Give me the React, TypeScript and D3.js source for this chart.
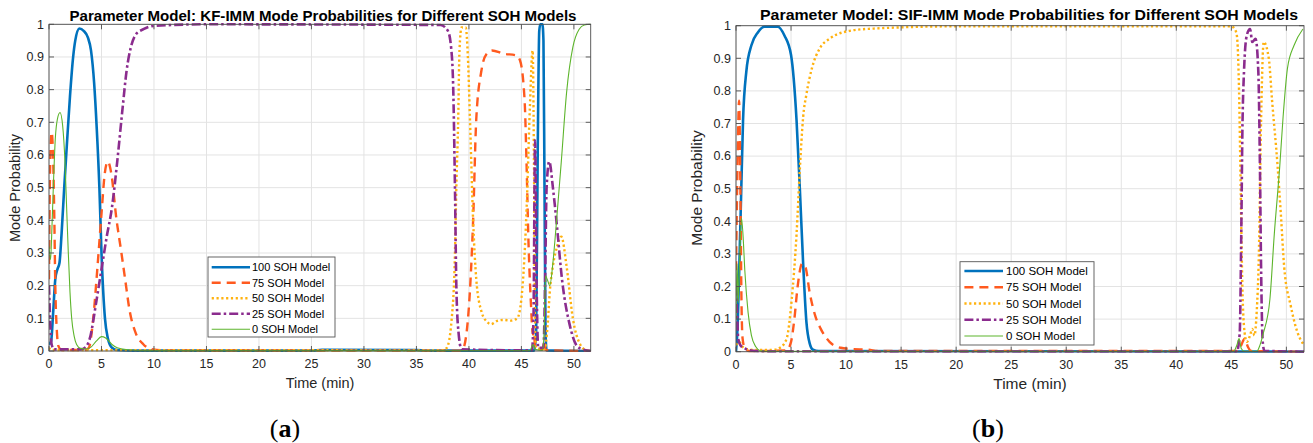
import React from 'react';
import * as d3 from 'd3';

type Pt = [number, number];

const xTicks = [0, 5, 10, 15, 20, 25, 30, 35, 40, 45, 50];
const yTicks = [0, 0.1, 0.2, 0.3, 0.4, 0.5, 0.6, 0.7, 0.8, 0.9, 1];
const yTickLabels = ['0', '0.1', '0.2', '0.3', '0.4', '0.5', '0.6', '0.7', '0.8', '0.9', '1'];
const seriesNames = ['100 SOH Model', '75 SOH Model', '50 SOH Model', '25 SOH Model', '0 SOH Model'];
const xMax = 51.6;

// ---- Panel (a): KF-IMM ----
const kf100: Pt[] = [[0,0.02],[0.2,0.03],[0.4,0.12],[0.6,0.22],[0.8,0.25],[1.0,0.27],[1.2,0.36],[1.45,0.5],[1.7,0.63],[2.0,0.78],[2.3,0.9],[2.5,0.95],[2.9,0.987],[3.3,0.98],[3.7,0.96],[4.0,0.92],[4.3,0.82],[4.55,0.68],[4.8,0.5],[5.0,0.3],[5.33,0.1],[5.6,0.04],[6.0,0.01],[6.5,0.003],[8,0.001],[25,0.001],[26,0.004],[35,0.003],[36,0.001],[46.2,0.001],[46.4,0.05],[46.55,0.6],[46.7,0.98],[46.8,1.0],[47.0,1.0],[47.1,0.95],[47.2,0.5],[47.3,0.05],[47.4,0.002],[51.6,0]];
const kf75: Pt[] = [[0,0.22],[0.1,0.55],[0.25,0.67],[0.4,0.58],[0.5,0.42],[0.6,0.2],[0.75,0.06],[0.9,0.015],[1.2,0.003],[3.5,0.003],[3.8,0.01],[4.2,0.095],[4.6,0.25],[5.0,0.42],[5.3,0.54],[5.6,0.58],[5.95,0.54],[6.4,0.41],[6.9,0.3],[7.25,0.22],[7.7,0.12],[8.2,0.06],[9.0,0.02],[9.9,0.005],[11,0.002],[39.0,0.001],[39.4,0.005],[39.9,0.095],[40.4,0.4],[40.7,0.71],[41.2,0.86],[41.7,0.91],[42.2,0.92],[43.3,0.91],[44.5,0.905],[44.86,0.89],[45.3,0.77],[45.5,0.56],[45.65,0.36],[45.9,0.15],[46.1,0.05],[46.2,0.06],[46.3,0.01],[47.0,0.005],[47.2,0.03],[47.3,0.003],[51.6,0]];
const kf50: Pt[] = [[0,0.01],[0.2,0.003],[37.5,0.002],[37.9,0.01],[38.35,0.095],[38.67,0.3],[38.8,0.5],[38.98,0.71],[39.1,0.92],[39.3,0.99],[39.7,0.99],[39.9,0.9],[40.1,0.71],[40.4,0.4],[40.7,0.22],[41.2,0.12],[41.7,0.09],[42.1,0.082],[42.7,0.092],[43.3,0.095],[44.0,0.093],[44.6,0.1],[45.0,0.16],[45.2,0.24],[45.5,0.44],[45.8,0.74],[46.07,0.92],[46.2,0.56],[46.3,0.095],[46.4,0.01],[47.2,0.005],[47.5,0.08],[47.7,0.18],[48.0,0.26],[48.4,0.32],[48.8,0.35],[49.3,0.26],[49.9,0.1],[50.6,0.02],[51.2,0.002],[51.6,0]];
const kf25: Pt[] = [[0,0.2],[0.1,0.1],[0.25,0.02],[0.5,0.005],[3.0,0.005],[3.5,0.012],[3.9,0.04],[4.5,0.15],[5.0,0.25],[5.5,0.35],[6.0,0.44],[6.5,0.58],[7.0,0.74],[7.4,0.86],[7.8,0.93],[8.3,0.97],[9.0,0.985],[10,0.995],[15,1.0],[37.3,0.998],[38.0,0.98],[38.3,0.93],[38.5,0.81],[38.67,0.5],[38.8,0.2],[39.0,0.06],[39.3,0.005],[46.0,0.002],[46.15,0.1],[46.3,0.645],[46.45,0.2],[46.6,0.01],[47.1,0.01],[47.25,0.2],[47.4,0.5],[47.65,0.58],[48.0,0.5],[48.3,0.41],[48.9,0.21],[49.6,0.08],[50.3,0.015],[51.0,0.003],[51.6,0]];
const kf0: Pt[] = [[0,0.32],[0.15,0.28],[0.25,0.35],[0.41,0.5],[0.6,0.65],[0.8,0.71],[1.05,0.73],[1.3,0.69],[1.52,0.58],[1.7,0.42],[1.84,0.3],[2.0,0.18],[2.16,0.1],[2.4,0.045],[2.63,0.02],[3.0,0.008],[3.5,0.006],[4.0,0.012],[4.5,0.03],[5.0,0.044],[5.4,0.04],[6.0,0.02],[6.5,0.01],[7.5,0.004],[9,0.001],[45.8,0.001],[46.1,0.02],[46.3,0.005],[47.0,0.002],[47.15,0.05],[47.3,0.23],[47.45,0.22],[47.7,0.2],[48.0,0.27],[48.3,0.38],[48.8,0.58],[49.3,0.79],[49.9,0.93],[50.5,0.985],[51.0,0.998],[51.6,1.0]];

// ---- Panel (b): SIF-IMM ----
const sif100: Pt[] = [[0,0.0],[0.15,0.08],[0.33,0.3],[0.48,0.5],[0.64,0.71],[0.94,0.86],[1.4,0.94],[2.0,0.98],[2.6,0.997],[3.8,0.997],[4.4,0.97],[5.0,0.91],[5.5,0.71],[5.8,0.5],[6.1,0.27],[6.4,0.09],[6.7,0.025],[7.0,0.006],[7.5,0.002],[51.6,0]];
const sif75: Pt[] = [[0,0.25],[0.15,0.6],[0.28,0.77],[0.4,0.5],[0.5,0.15],[0.6,0.04],[0.8,0.01],[1.2,0.002],[4.6,0.004],[5.0,0.03],[5.3,0.1],[5.6,0.2],[6.0,0.27],[6.3,0.26],[6.7,0.18],[7.2,0.11],[7.7,0.07],[8.5,0.03],[9.5,0.012],[10.5,0.008],[12,0.006],[13,0.002],[45.6,0.002],[45.9,0.02],[46.2,0.04],[46.5,0.015],[46.8,0.002],[51.6,0]];
const sif50: Pt[] = [[0,0.02],[0.3,0.03],[0.6,0.015],[1.0,0.008],[2.0,0.005],[3.5,0.006],[4.0,0.012],[4.6,0.04],[5.06,0.16],[5.5,0.36],[5.8,0.56],[6.1,0.72],[6.4,0.79],[6.9,0.87],[7.6,0.93],[8.5,0.96],[9.75,0.98],[11.9,0.99],[20,0.998],[45.0,0.998],[45.3,0.99],[45.5,0.97],[45.7,0.8],[45.85,0.5],[46.0,0.2],[46.2,0.06],[46.4,0.03],[46.7,0.05],[46.9,0.07],[47.1,0.05],[47.3,0.12],[47.5,0.3],[47.7,0.71],[47.94,0.95],[48.4,0.9],[48.7,0.77],[49.2,0.57],[49.5,0.42],[49.8,0.26],[50.4,0.14],[51.0,0.06],[51.6,0.02]];
const sif25: Pt[] = [[0,0.2],[0.1,0.12],[0.2,0.04],[0.4,0.02],[0.8,0.01],[1.5,0.003],[3,0.001],[45.5,0.001],[45.76,0.056],[45.9,0.36],[46.0,0.67],[46.15,0.86],[46.4,0.97],[46.7,0.99],[46.9,0.95],[47.2,0.96],[47.45,0.86],[47.6,0.56],[47.7,0.26],[47.85,0.03],[48.0,0.003],[51.6,0]];
const sif0: Pt[] = [[0,0.1],[0.1,0.27],[0.2,0.15],[0.3,0.25],[0.5,0.41],[0.65,0.35],[0.8,0.25],[1.1,0.12],[1.4,0.05],[1.8,0.015],[2.2,0.003],[3,0.001],[45.2,0.001],[45.5,0.02],[45.7,0.04],[45.9,0.01],[46.2,0.001],[47.3,0.001],[47.6,0.02],[47.9,0.056],[48.5,0.16],[48.9,0.36],[49.4,0.57],[49.7,0.72],[50.1,0.87],[50.7,0.94],[51.5,0.99]];

const kfSeries = [kf100, kf75, kf50, kf25, kf0];
const sifSeries = [sif100, sif75, sif50, sif25, sif0];

const lineStyles = [
  { color: '#0072BD', width: 2.6, dash: undefined as string | undefined },
  { color: '#FF5A1F', width: 2.4, dash: '9,6' },
  { color: '#FFB20F', width: 2.4, dash: '2.2,2.6' },
  { color: '#8B2C8E', width: 2.6, dash: '9,3,2.5,3' },
  { color: '#5DB52C', width: 1.1, dash: undefined as string | undefined },
];

const FONT = "'Liberation Sans', Arial, Helvetica, sans-serif";

interface PanelCfg {
  id: string;
  x0: number; x1: number; y0: number; y1: number;
  title: string; titleX: number; titleY: number; titleSize: number; titleLen: number;
  tickSize: number; labelSize: number;
  xLabelX: number; xLabelY: number; yLabelX: number; yLabelY: number;
  legend: { x: number; y: number; w: number; h: number; rowY0: number; rowDy: number; lx0: number; lx1: number; tx: number; fs: number };
  caption: string; capX: number; capY: number;
  series: Pt[][];
}

const panels: PanelCfg[] = [
  {
    id: 'a', x0: 49, x1: 590.7, y0: 24.3, y1: 351,
    title: 'Parameter Model: KF-IMM Mode Probabilities for Different SOH Models', titleX: 323, titleY: 21, titleSize: 14.5, titleLen: 507,
    tickSize: 12.5, labelSize: 14.5, xLabelX: 320, xLabelY: 388, yLabelX: 15, yLabelY: 188,
    legend: { x: 208, y: 257, w: 127, h: 80, rowY0: 267.3, rowDy: 15.5, lx0: 211.7, lx1: 250, tx: 252, fs: 11 },
    caption: 'a', capX: 285, capY: 437, series: kfSeries,
  },
  {
    id: 'b', x0: 736, x1: 1304, y0: 25.7, y1: 351.7,
    title: 'Parameter Model: SIF-IMM Mode Probabilities for Different SOH Models', titleX: 1029, titleY: 19.5, titleSize: 15.2, titleLen: 538,
    tickSize: 12.5, labelSize: 15.5, xLabelX: 1030, xLabelY: 389, yLabelX: 697, yLabelY: 188,
    legend: { x: 960, y: 261.7, w: 134, h: 83.3, rowY0: 271, rowDy: 16.25, lx0: 964.4, lx1: 1003, tx: 1006, fs: 11.5 },
    caption: 'b', capX: 988, capY: 437, series: sifSeries,
  },
];

function Panel({ cfg }: { cfg: PanelCfg }) {
  const x = d3.scaleLinear().domain([0, xMax]).range([cfg.x0, cfg.x1]);
  const y = d3.scaleLinear().domain([0, 1]).range([cfg.y1, cfg.y0]);
  const line = d3.line<Pt>().x(d => x(d[0])).y(d => y(d[1])).curve(d3.curveMonotoneX);
  const clipId = `clip-${cfg.id}`;
  const tickLen = 5;
  return (
    <g>
      <defs>
        <clipPath id={clipId}>
          <rect x={cfg.x0} y={cfg.y0 - 2} width={cfg.x1 - cfg.x0} height={cfg.y1 - cfg.y0 + 3} />
        </clipPath>
      </defs>
      <rect x={cfg.x0} y={cfg.y0} width={cfg.x1 - cfg.x0} height={cfg.y1 - cfg.y0} fill="#fff" />
      {xTicks.map(t => (
        <line key={`gx${t}`} x1={x(t)} x2={x(t)} y1={cfg.y0} y2={cfg.y1} stroke="#e3e3e3" strokeWidth={1} />
      ))}
      {yTicks.map(t => (
        <line key={`gy${t}`} x1={cfg.x0} x2={cfg.x1} y1={y(t)} y2={y(t)} stroke="#e3e3e3" strokeWidth={1} />
      ))}
      <g clipPath={`url(#${clipId})`}>
        {cfg.series.map((s, i) => (
          <path key={i} d={line(s) || ''} fill="none" stroke={lineStyles[i].color}
            strokeWidth={lineStyles[i].width} strokeDasharray={lineStyles[i].dash}
            strokeLinejoin="round" />
        ))}
      </g>
      <rect x={cfg.x0} y={cfg.y0} width={cfg.x1 - cfg.x0} height={cfg.y1 - cfg.y0} fill="none" stroke="#4d4d4d" strokeWidth={0.9} />
      {xTicks.map(t => (
        <g key={`tx${t}`}>
          <line x1={x(t)} x2={x(t)} y1={cfg.y1} y2={cfg.y1 - tickLen} stroke="#4d4d4d" strokeWidth={0.9} />
          <line x1={x(t)} x2={x(t)} y1={cfg.y0} y2={cfg.y0 + tickLen} stroke="#4d4d4d" strokeWidth={0.9} />
          <text x={x(t)} y={cfg.y1 + 17} textAnchor="middle" fontFamily={FONT} fontSize={cfg.tickSize} fill="#262626">{t}</text>
        </g>
      ))}
      {yTicks.map((t, i) => (
        <g key={`ty${t}`}>
          <line x1={cfg.x0} x2={cfg.x0 + tickLen} y1={y(t)} y2={y(t)} stroke="#4d4d4d" strokeWidth={0.9} />
          <line x1={cfg.x1} x2={cfg.x1 - tickLen} y1={y(t)} y2={y(t)} stroke="#4d4d4d" strokeWidth={0.9} />
          <text x={cfg.x0 - 5} y={y(t)} dy="0.35em" textAnchor="end" fontFamily={FONT} fontSize={cfg.tickSize} fill="#262626">{yTickLabels[i]}</text>
        </g>
      ))}
      <text x={cfg.titleX} y={cfg.titleY} textAnchor="middle" fontFamily={FONT} fontWeight="bold" fontSize={cfg.titleSize}
        textLength={cfg.titleLen} lengthAdjust="spacingAndGlyphs" fill="#000">{cfg.title}</text>
      <text x={cfg.xLabelX} y={cfg.xLabelY} textAnchor="middle" fontFamily={FONT} fontSize={cfg.labelSize} fill="#262626">Time (min)</text>
      <text transform={`translate(${cfg.yLabelX},${cfg.yLabelY}) rotate(-90)`} textAnchor="middle" dy="0.35em" fontFamily={FONT} fontSize={cfg.labelSize} fill="#262626">Mode Probability</text>
      <rect x={cfg.legend.x} y={cfg.legend.y} width={cfg.legend.w} height={cfg.legend.h} fill="#fff" stroke="#555" strokeWidth={0.9} />
      {seriesNames.map((n, i) => {
        const ry = cfg.legend.rowY0 + i * cfg.legend.rowDy;
        return (
          <g key={n}>
            <line x1={cfg.legend.lx0} x2={cfg.legend.lx1} y1={ry} y2={ry} stroke={lineStyles[i].color}
              strokeWidth={lineStyles[i].width} strokeDasharray={lineStyles[i].dash} />
            <text x={cfg.legend.tx} y={ry} dy="0.35em" fontFamily={FONT} fontSize={cfg.legend.fs} fill="#000">{n}</text>
          </g>
        );
      })}
      <text x={cfg.capX} y={cfg.capY} textAnchor="middle" fontFamily="'Liberation Serif', 'DejaVu Serif', serif" fontSize={26} fill="#000">
        (<tspan fontWeight="bold">{cfg.caption}</tspan>)
      </text>
    </g>
  );
}

export default function App() {
  return (
    <svg width={1313} height={443} style={{ position: 'absolute', left: 0, top: 0, background: '#fff' }}>
      <rect width={1313} height={443} fill="#fff" />
      {panels.map(p => <Panel key={p.id} cfg={p} />)}
    </svg>
  );
}
